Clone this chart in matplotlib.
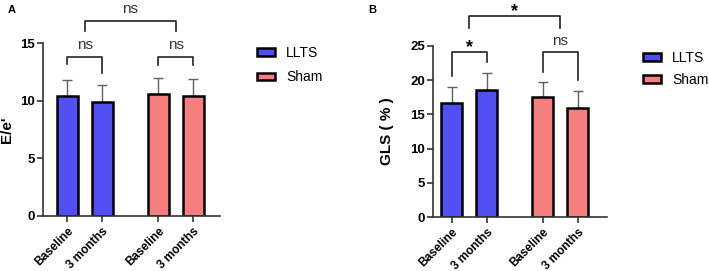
import matplotlib
matplotlib.use("Agg")
import matplotlib.pyplot as plt
from matplotlib.patches import Patch

plt.rcParams['font.family'] = ['Liberation Sans', 'DejaVu Sans']

categories = ["Baseline", "3 months", "Baseline", "3 months"]
groups = ["LLTS", "LLTS", "Sham", "Sham"]
ee_means = [10.4, 9.9, 10.6, 10.4]
ee_err = [1.4, 1.5, 1.4, 1.5]
gls_means = [16.7, 18.5, 17.5, 15.9]
gls_err = [2.3, 2.6, 2.2, 2.5]
positions = [0, 1, 2.6, 3.6]
colors = {"LLTS": "#5050F2", "Sham": "#F77E7E"}

# brackets: (x1, x2, top, left_leg_end, right_leg_end, label)
ee_brackets = [
    (0, 1, 13.8, 13.2, 12.4, "ns"),
    (2.6, 3.6, 13.8, 13.1, 13.1, "ns"),
    (0.5, 3.1, 16.9, 16.0, 16.0, "ns"),
]
gls_brackets = [
    (0, 1, 24.1, 20.6, 22.7, "*"),
    (2.6, 3.6, 24.1, 21.2, 20.0, "ns"),
    (0.5, 3.1, 29.4, 27.6, 27.6, "*"),
]

W, H = 709, 271
fig = plt.figure(figsize=(W / 100, H / 100), dpi=100)

def make_axes(x0, x1, ytop, ybot):
    return fig.add_axes([x0 / W, 1 - ybot / H, (x1 - x0) / W, (ybot - ytop) / H])

def draw(ax, means, errs, ymax, ystep, ylabel, brackets, xlim, ylab_x):
    cols = [colors[g] for g in groups]
    ax.bar(positions, means, width=0.6, color=cols, edgecolor="black", linewidth=1.8, zorder=2)
    ax.errorbar(positions, means, yerr=[[0] * 4, errs], fmt="none", ecolor="#606060",
                elinewidth=1.0, capsize=3.6, capthick=1.0, zorder=1)
    ax.set_ylim(0, ymax)
    ax.set_xlim(*xlim)
    ax.set_yticks(range(0, ymax + 1, ystep))
    ax.set_xticks(positions)
    ax.set_xticklabels(categories, rotation=45, ha="right", rotation_mode="anchor",
                       fontsize=8.6, fontweight="bold")
    for lab in ax.get_yticklabels():
        lab.set_fontweight("bold")
        lab.set_fontsize(9.5)
    ax.tick_params(axis="both", direction="out", width=1.2, length=4.3, color="#333333")
    ax.tick_params(axis="y", pad=1.5)
    ax.tick_params(axis="x", pad=2.5)
    for s in ["top", "right"]:
        ax.spines[s].set_visible(False)
    for s in ["left", "bottom"]:
        ax.spines[s].set_linewidth(1.2)
        ax.spines[s].set_color("#333333")
    ax.set_ylabel(ylabel, fontsize=11, fontweight="bold")
    ax.yaxis.set_label_coords(ylab_x, 0.5)
    for x1, x2, top, l1, l2, lab in brackets:
        ax.plot([x1, x1, x2, x2], [l1, top, top, l2], color="#222222", lw=1.2,
                clip_on=False, zorder=3)
        if lab == "*":
            ax.annotate(lab, ((x1 + x2) / 2, top), xytext=(0, 0), textcoords="offset points",
                        ha="center", va="baseline", fontsize=13, fontweight="bold",
                        annotation_clip=False)
        else:
            ax.annotate(lab, ((x1 + x2) / 2, top), xytext=(0, 5.5), textcoords="offset points",
                        ha="center", va="baseline", fontsize=11, color="#333333",
                        annotation_clip=False)

axA = make_axes(43, 220, 43, 216)
draw(axA, ee_means, ee_err, 15, 5, "E/e'", ee_brackets, (-0.69, 4.37), (14 - 43) / 177)
axB = make_axes(433, 607, 46, 217)
draw(axB, gls_means, gls_err, 25, 5, "GLS ( % )", gls_brackets, (-0.54, 4.43), (394 - 433) / 174)

fig.text(8 / W, 1 - 10 / H, "A", fontsize=8, fontweight="bold", va="center")
fig.text(368 / W, 1 - 10 / H, "B", fontsize=8, fontweight="bold", va="center")

handles = [Patch(facecolor=colors["LLTS"], edgecolor="black", linewidth=1.8, label="LLTS"),
           Patch(facecolor=colors["Sham"], edgecolor="black", linewidth=1.8, label="Sham")]
for x, y, sp in [(257, 46, 0.75), (643, 51, 0.55)]:
    fig.legend(handles=handles, loc="upper left", bbox_to_anchor=(x / W, 1 - y / H),
               frameon=False, fontsize=10, handlelength=1.3, handleheight=0.5,
               labelspacing=sp, handletextpad=0.8, borderaxespad=0, borderpad=0)

fig.savefig("out.png", dpi=100)
